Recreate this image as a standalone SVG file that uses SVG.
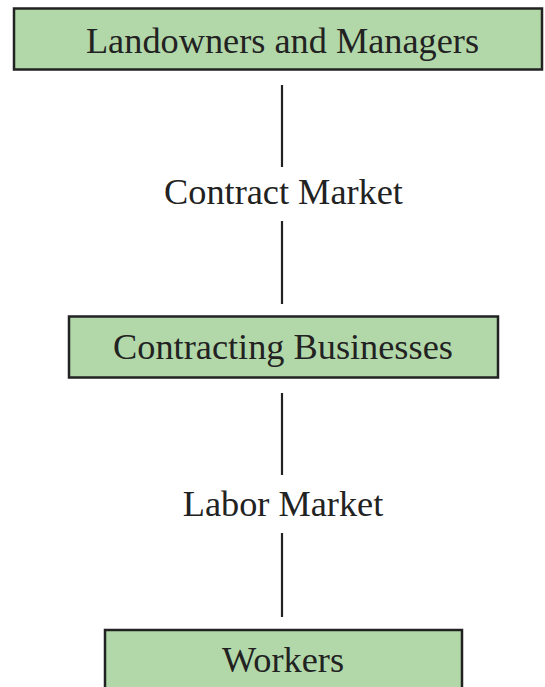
<svg xmlns="http://www.w3.org/2000/svg" width="545" height="687" viewBox="0 0 545 687">
<style>
.box{fill:#b2d8a9;stroke:#222;stroke-width:2.5}
.lbl{font-family:"Liberation Serif","DejaVu Serif",serif;font-size:36.3px;fill:#222;text-anchor:middle}
.ln{stroke:#222;stroke-width:2.2}
</style>
<rect width="545" height="687" fill="#fff"/>
<g id="connectors">
<line class="ln" x1="282" y1="85" x2="282" y2="167"/>
<line class="ln" x1="282" y1="221" x2="282" y2="304"/>
<line class="ln" x1="282" y1="393" x2="282" y2="475"/>
<line class="ln" x1="282" y1="533" x2="282" y2="617"/>
<text class="lbl" x="283.5" y="204">Contract Market</text>
<text class="lbl" x="283" y="516">Labor Market</text>
</g>
<g id="landowners">
<rect class="box" x="14" y="8.5" width="528" height="61"/>
<text class="lbl" x="282.5" y="53">Landowners and Managers</text>
</g>
<g id="contracting">
<rect class="box" x="69" y="316.5" width="429" height="61"/>
<text class="lbl" x="283" y="359">Contracting Businesses</text>
</g>
<g id="workers">
<rect class="box" x="105" y="630" width="357" height="62"/>
<text class="lbl" x="283" y="672">Workers</text>
</g>
</svg>
